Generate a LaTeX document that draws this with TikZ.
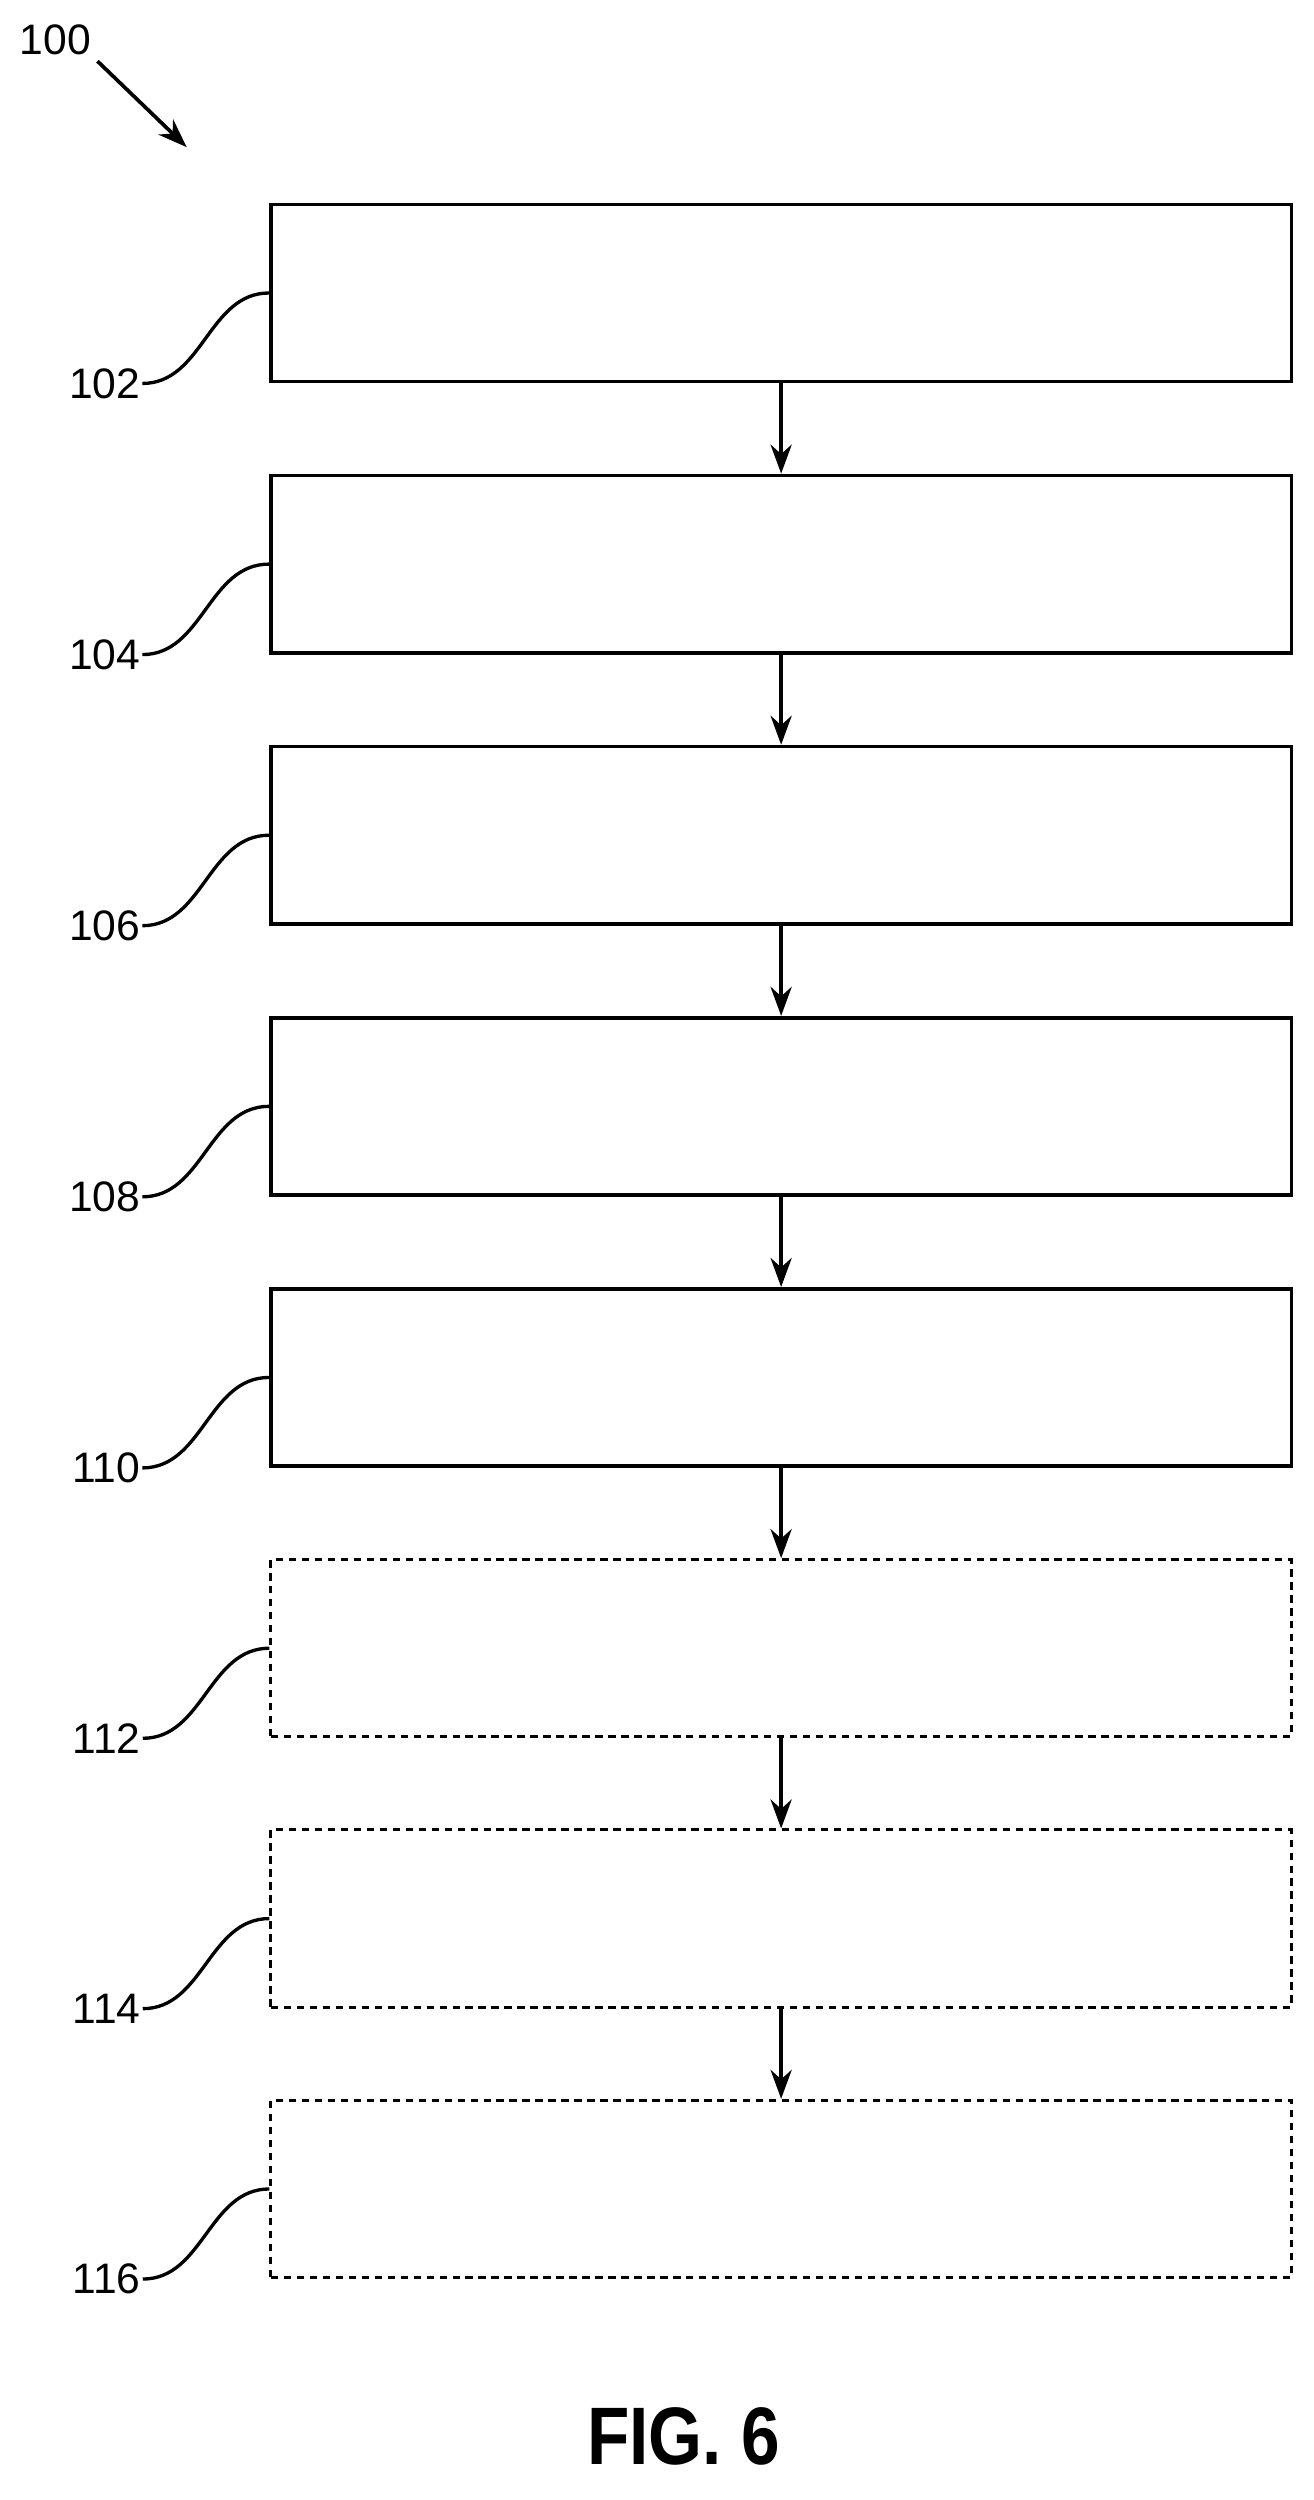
\documentclass[tikz,border=0pt]{standalone}
\usepackage{fontspec}
\setmainfont{Liberation Sans}
\usetikzlibrary{arrows.meta,positioning}

\begin{document}
\begin{tikzpicture}[
    x=0.3mm, y=-0.3mm,
    node distance=17.1mm,
    flowstep/.style={draw, line width=2pt, minimum width=193.5mm, minimum height=33.6mm, inner sep=0pt},
    optstep/.style={flowstep, line width=1.6pt, dash pattern=on 4pt off 3pt},
    refnum/.style={anchor=east, inner sep=1pt, font=\fontsize{23}{23}\selectfont},
    leader/.style={line width=1.8pt},
    arrow/.style={-{Stealth[length=5.5mm,width=4mm]}, line width=2pt}
]
    \useasboundingbox (0,0) rectangle (830,1580);

    \node[flowstep, anchor=north west] (s102) at (170,128) {};
    \node[flowstep, below=of s102] (s104) {};
    \node[flowstep, below=of s104] (s106) {};
    \node[flowstep, below=of s106] (s108) {};
    \node[flowstep, below=of s108] (s110) {};
    \node[optstep, below=of s110] (s112) {};
    \node[optstep, below=of s112] (s114) {};
    \node[optstep, below=of s114] (s116) {};

    % reference numerals with leaders
    \foreach \n in {102,104,106,108,110,112,114,116} {
        \node[refnum] (l\n) at ([xshift=-24mm]s\n.south west) {\n};
        \draw[leader] (l\n.east) to[out=0, in=180] (s\n.west);
    }

    \draw[arrow] (s102) -- (s104);
    \draw[arrow] (s104) -- (s106);
    \draw[arrow] (s106) -- (s108);
    \draw[arrow] (s108) -- (s110);
    \draw[arrow] (s110) -- (s112);
    \draw[arrow] (s112) -- (s114);
    \draw[arrow] (s114) -- (s116);

    \node[font=\fontsize{23}{23}\selectfont] (fig) at (35,25) {100};
    \coordinate (tip) at (118,93);
    \draw[arrow] (fig.south east) -- (tip);

    \node[font=\bfseries\fontsize{44}{44}\selectfont, xscale=0.85] (cap) at (432,1540) {FIG. 6};
\end{tikzpicture}
\end{document}
